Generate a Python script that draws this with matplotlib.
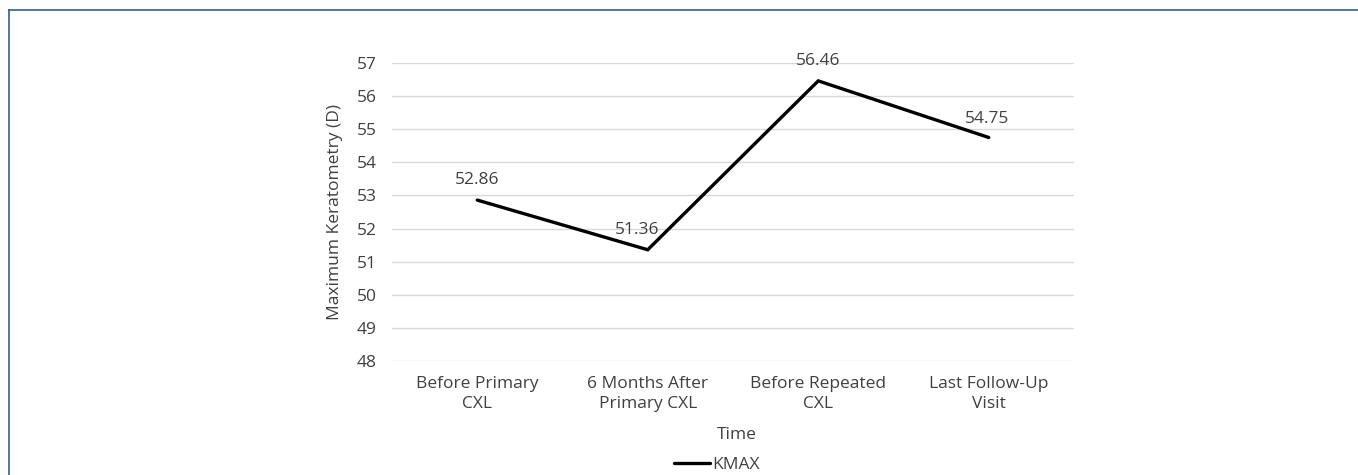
import matplotlib.pyplot as plt
from matplotlib.lines import Line2D

plt.rcParams['font.family'] = ['Open Sans', 'DejaVu Sans']

# data
categories = ['Before Primary\nCXL', '6 Months After\nPrimary CXL',
              'Before Repeated\nCXL', 'Last Follow-Up\nVisit']
kmax = [52.86, 51.36, 56.46, 54.75]
y_ticks = list(range(48, 58))

text_col = '#404040'
fs = 12.5

fig = plt.figure(figsize=(13.58, 4.75), dpi=100)
ax = fig.add_axes([392 / 1358, 1 - 361 / 475, 682 / 1358, 298 / 475])

x = range(len(categories))
ax.plot(x, kmax, color='black', linewidth=2.4, solid_capstyle='round',
        solid_joinstyle='miter', label='KMAX', zorder=3)

# data labels
offsets = [(0, 14.5), (-8, 14), (0, 14.5), (-1, 13)]
for xi, v, off in zip(x, kmax, offsets):
    ax.annotate(f'{v:.2f}', (xi, v), xytext=off, textcoords='offset points',
                ha='center', va='center', fontsize=fs, color=text_col)

ax.set_xlim(-0.5, len(categories) - 0.5)
ax.set_ylim(48, 57)
ax.set_yticks(y_ticks)
ax.set_xticks(list(x))
ax.set_xticklabels(categories, fontsize=fs, color=text_col, linespacing=1.3)
ax.tick_params(axis='both', length=0, labelsize=fs, labelcolor=text_col)
ax.tick_params(axis='x', pad=11)
ax.tick_params(axis='y', pad=11)

ax.grid(axis='y', color='#d9d9d9', linewidth=1.0)
ax.set_axisbelow(True)
for s in ax.spines.values():
    s.set_visible(False)

ax.set_ylabel('Maximum Keratometry (D)', fontsize=fs, color=text_col)
ax.yaxis.set_label_coords(-0.072, 0.5)
ax.set_xlabel('Time', fontsize=fs, color=text_col)
ax.xaxis.set_label_coords(0.506, -0.22)

fig.legend(handles=ax.get_lines(), loc='center', frameon=False,
           bbox_to_anchor=(717 / 1358, 1 - 465 / 475), fontsize=fs,
           handlelength=2.1, handletextpad=0.12, labelcolor=text_col)

# outer border (top and left visible)
border = '#2f5f8f'
fig.add_artist(Line2D([9 / 1358, 1], [1 - 10 / 475, 1 - 10 / 475],
                      transform=fig.transFigure, color=border, linewidth=1.2))
fig.add_artist(Line2D([9 / 1358, 9 / 1358], [0, 1 - 10 / 475],
                      transform=fig.transFigure, color=border, linewidth=1.2))

fig.savefig('out.png', dpi=100, facecolor='white')
